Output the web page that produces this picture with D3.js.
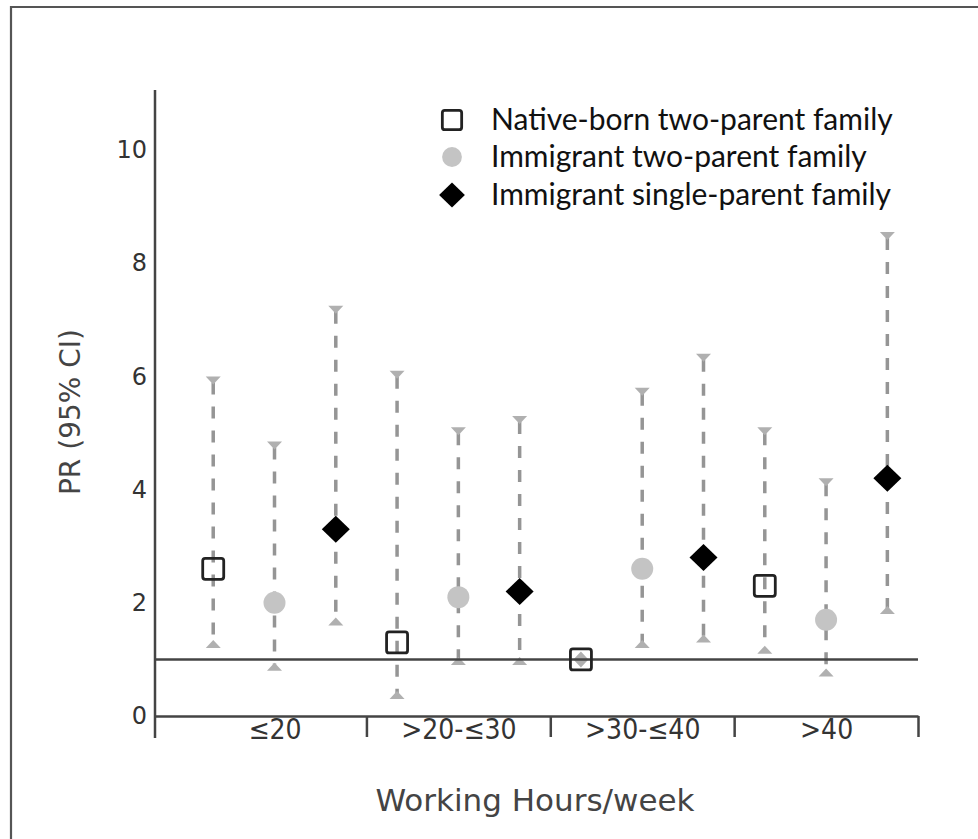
<!DOCTYPE html>
<html>
<head>
<meta charset="utf-8">
<script src="https://cdn.jsdelivr.net/npm/d3@7"></script>
<style>
  html, body { margin: 0; padding: 0; background: #fff; }
  svg { display: block; }
</style>
</head>
<body>
<svg id="chart" width="978" height="839"></svg>
<script>
// Working-hour groups and family types
const groups = ["≤20", ">20-≤30", ">30-≤40", ">40"];
const seriesNames = ["Native-born two-parent family", "Immigrant two-parent family", "Immigrant single-parent family"];

// Prevalence ratios with 95% confidence limits, one value per working-hour group
const nativePR = [2.6, 1.3, 1.0, 2.3];
const nativeLo = [1.2, 0.3, 1.0, 1.1];
const nativeHi = [6.0, 6.1, 1.0, 5.1];

const immTwoPR = [2.0, 2.1, 2.6, 1.7];
const immTwoLo = [0.8, 0.9, 1.2, 0.7];
const immTwoHi = [4.85, 5.1, 5.8, 4.2];

const immSinglePR = [3.3, 2.2, 2.8, 4.2];
const immSingleLo = [1.6, 0.9, 1.3, 1.8];
const immSingleHi = [7.25, 5.3, 6.4, 8.55];

const yTicks = [0, 2, 4, 6, 8, 10];
const refValue = 1;

const series = [
  { name: seriesNames[0], pr: nativePR, lo: nativeLo, hi: nativeHi, shape: "square" },
  { name: seriesNames[1], pr: immTwoPR, lo: immTwoLo, hi: immTwoHi, shape: "circle" },
  { name: seriesNames[2], pr: immSinglePR, lo: immSingleLo, hi: immSingleHi, shape: "diamond" }
];

// Flatten into one record per point; slot 1..12 along the x axis
const points = [];
groups.forEach((g, gi) => {
  series.forEach((s, si) => {
    points.push({ slot: gi * 3 + si + 1, pr: s.pr[gi], lo: s.lo[gi], hi: s.hi[gi], shape: s.shape });
  });
});

const svg = d3.select("#chart");

// outer frame
svg.append("path")
  .attr("d", "M11,845 L11,7 L985,7")
  .attr("fill", "none")
  .attr("stroke", "#555")
  .attr("stroke-width", 2.2);

const x = d3.scaleLinear().domain([0.05, 12.5]).range([155, 918]);
const y = d3.scaleLinear().domain([0, 11.06]).range([716, 90]);

const axisColor = "#444";
const verdanaLike = "'DejaVu Sans', Verdana, sans-serif";

// y axis labels
const yAxis = svg.append("g")
  .attr("transform", `translate(${x(0.05)},0)`)
  .call(d3.axisLeft(y).tickValues(yTicks).tickSize(0).tickPadding(8).tickFormat(d3.format("d")));
yAxis.select(".domain").remove();
yAxis.selectAll("text")
  .attr("font-family", verdanaLike)
  .attr("font-size", 24)
  .attr("fill", "#333");

// y axis line (extends a little below zero)
svg.append("line")
  .attr("x1", x(0.05)).attr("x2", x(0.05))
  .attr("y1", y(11.06)).attr("y2", y(0) + 22)
  .attr("stroke", axisColor).attr("stroke-width", 2.5);

// x axis: group boundaries
const boundaries = [3.5, 6.5, 9.5, 12.5];
const xAxis = svg.append("g")
  .attr("transform", `translate(0,${y(0)})`)
  .call(d3.axisBottom(x).tickValues(boundaries).tickSizeInner(21).tickSizeOuter(0).tickFormat(""));
xAxis.select(".domain").attr("stroke", axisColor).attr("stroke-width", 2.5);
xAxis.selectAll(".tick line").attr("stroke", axisColor).attr("stroke-width", 2.5);

// x axis: group labels
const xLabels = svg.append("g")
  .attr("transform", `translate(0,${y(0)})`)
  .call(d3.axisBottom(x).tickValues([2, 5, 8, 11]).tickSize(0).tickPadding(3)
    .tickFormat((d, i) => groups[i]));
xLabels.select(".domain").remove();
xLabels.selectAll("text")
  .attr("font-family", "'DejaVu Sans Condensed', 'DejaVu Sans', sans-serif")
  .attr("font-size", 28)
  .attr("fill", "#333");

// axis titles
svg.append("text")
  .attr("x", 535).attr("y", 811)
  .attr("text-anchor", "middle")
  .attr("font-family", verdanaLike)
  .attr("font-size", 31)
  .attr("fill", "#444")
  .text("Working Hours/week");

svg.append("text")
  .attr("transform", `translate(80,${412}) rotate(-90)`)
  .attr("text-anchor", "middle")
  .attr("font-family", verdanaLike)
  .attr("font-size", 28)
  .attr("fill", "#444")
  .text("PR (95% CI)");

// confidence intervals
const ciColor = "#959595";
const capColor = "#b0b0b0";
const withCI = points.filter(d => d.hi > d.lo);

svg.append("g").selectAll("line")
  .data(withCI).join("line")
  .attr("x1", d => x(d.slot)).attr("x2", d => x(d.slot))
  .attr("y1", d => y(d.hi) + 6).attr("y2", d => y(d.lo) - 6)
  .attr("stroke", ciColor)
  .attr("stroke-width", 3.5)
  .attr("stroke-dasharray", "12,12");

const capW = 7.5, capH = 8;
svg.append("g").selectAll("path")
  .data(points).join("path")
  .attr("d", d => {
    const cx = x(d.slot), cy = y(d.hi);
    return `M${cx - capW},${cy} L${cx + capW},${cy} L${cx},${cy + capH} Z`;
  })
  .attr("fill", capColor);
svg.append("g").selectAll("path")
  .data(points).join("path")
  .attr("d", d => {
    const cx = x(d.slot), cy = y(d.lo);
    return `M${cx - capW},${cy} L${cx + capW},${cy} L${cx},${cy - capH} Z`;
  })
  .attr("fill", capColor);

// reference line at PR = 1
svg.append("line")
  .attr("x1", x(0.05)).attr("x2", x(12.5))
  .attr("y1", y(refValue)).attr("y2", y(refValue))
  .attr("stroke", axisColor).attr("stroke-width", 2.5);

// markers
function drawMarker(sel, shape, cx, cy, s) {
  if (shape === "square") {
    sel.append("rect")
      .attr("x", cx - 10.5 * s).attr("y", cy - 10.5 * s)
      .attr("width", 21 * s).attr("height", 21 * s)
      .attr("rx", 2.5)
      .attr("fill", "none")
      .attr("stroke", "#222")
      .attr("stroke-width", 2.8);
  } else if (shape === "circle") {
    sel.append("circle")
      .attr("cx", cx).attr("cy", cy).attr("r", 11 * s)
      .attr("fill", "#c4c4c4");
  } else {
    const w = 14 * s, h = 13.5 * s;
    sel.append("path")
      .attr("d", `M${cx},${cy - h} L${cx + w},${cy} L${cx},${cy + h} L${cx - w},${cy} Z`)
      .attr("fill", "#000");
  }
}

const markerLayer = svg.append("g");
points.forEach(d => drawMarker(markerLayer, d.shape, x(d.slot), y(d.pr), 1));

// legend
const legend = svg.append("g");
const legendY = [120, 157, 195];
series.forEach((s, i) => {
  drawMarker(legend, s.shape, 452, legendY[i], s.shape === "circle" ? 0.9 : 0.92);
  legend.append("text")
    .attr("x", 491).attr("y", legendY[i] + 10)
    .attr("font-family", "Lato, 'Open Sans', sans-serif")
    .attr("font-size", 30)
    .attr("fill", "#111")
    .text(s.name);
});
</script>
</body>
</html>
